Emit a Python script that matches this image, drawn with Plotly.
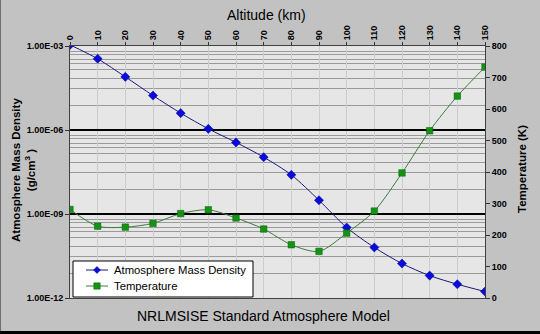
import plotly.graph_objects as go

# Altitude grid of the NRLMSISE profile (km)
altitude_km = [0, 10, 20, 30, 40, 50, 60, 70, 80, 90, 100, 110, 120, 130, 140, 150]

# Atmosphere mass density (g/cm^3)
density_g_cm3 = [1.1e-3, 3.5e-4, 7.9e-5, 1.7e-5, 4.0e-6, 1.1e-6, 3.6e-7, 1.07e-7,
                 2.5e-8, 3.1e-9, 3.3e-10, 6.4e-11, 1.7e-11, 6.3e-12, 3.1e-12, 1.7e-12]

# Temperature (K)
temperature_k = [281, 228, 225, 237, 268, 280, 254, 219,
                 169, 148, 206, 276, 397, 531, 641, 733]

series_names = ["Atmosphere Mass Density", "Temperature"]

# Axis ticks
altitude_ticks = list(range(0, 151, 10))
density_ticks = [1e-3, 1e-6, 1e-9, 1e-12]
density_tick_labels = ["1.00E-03", "1.00E-06", "1.00E-09", "1.00E-12"]
temperature_ticks = list(range(0, 801, 100))

# Minor density gridlines: offsets (in decades) below each labelled line
minor_offsets = [0.2, 0.3, 0.48, 0.64, 0.84, 1.16, 1.52, 2.11]
minor_vals = [u * 10 ** (-d) for u in density_ticks[:-1] for d in minor_offsets]

W, H = 540, 334
ML, MR, MT, MB = 70, 55, 46, 36
PW, PH = W - ML - MR, H - MT - MB


def px(x):
    return (x - ML) / PW


def py(y):
    return (H - MB - y) / PH


SANS = "Liberation Sans, Arial, sans-serif"

DENS_LINE, DENS_MARK, DENS_EDGE = "#1a1a7a", "#0a0adc", "#0000a0"
TEMP_LINE, TEMP_MARK, TEMP_EDGE = "#3f7a3f", "#139413", "#0b5e0b"

fig = go.Figure()

fig.add_trace(go.Scatter(
    x=altitude_km, y=density_g_cm3, name=series_names[0],
    mode="lines+markers", yaxis="y",
    line=dict(color=DENS_LINE, width=1, shape="spline", smoothing=0.8),
    marker=dict(symbol="diamond", size=7, color=DENS_MARK,
                line=dict(color=DENS_EDGE, width=0.5)),
))

fig.add_trace(go.Scatter(
    x=altitude_km, y=temperature_k, name=series_names[1],
    mode="lines+markers", yaxis="y2",
    line=dict(color=TEMP_LINE, width=1, shape="spline", smoothing=0.8),
    marker=dict(symbol="square", size=6.5, color=TEMP_MARK,
                line=dict(color=TEMP_EDGE, width=0.5)),
))

tickfont = dict(family=SANS, size=9, color="black", weight="bold")

fig.update_layout(
    template="none",
    width=W, height=H,
    margin=dict(l=ML, r=MR, t=MT, b=MB, pad=0),
    paper_bgcolor="#c2c2c2",
    plot_bgcolor="#e6e6e6",
    showlegend=False,
    xaxis=dict(
        side="top", range=[0, 150], tickmode="array", tickvals=altitude_ticks,
        tickangle=-90, tickfont=tickfont, ticks="outside", ticklen=3,
        tickcolor="#333", showgrid=True, gridcolor="#cdcdcd", gridwidth=1,
        showline=True, linecolor="#404040", linewidth=1, mirror=True,
        zeroline=False, automargin=False,
    ),
    yaxis=dict(
        type="log", range=[-12, -3], tickmode="array", tickvals=density_ticks,
        ticktext=density_tick_labels, tickfont=tickfont, ticks="outside",
        ticklen=4, tickcolor="#333", showgrid=True, gridcolor="black",
        gridwidth=2, showline=True, linecolor="#404040", linewidth=1,
        zeroline=False, automargin=False,
        minor=dict(tickmode="array", tickvals=minor_vals, showgrid=True,
                   gridcolor="#9a9a9a", gridwidth=1, ticks=""),
    ),
    yaxis2=dict(
        overlaying="y", side="right", range=[0, 800], tickmode="array",
        tickvals=temperature_ticks, tickfont=tickfont, ticks="outside",
        ticklen=4, tickcolor="#333", showgrid=False, showline=True,
        linecolor="#404040", linewidth=1, zeroline=False, automargin=False,
    ),
)

annotations = [
    dict(text="Altitude (km)",
         x=px(266.5), y=py(15), font=dict(family=SANS, size=14, color="black")),
    dict(text="NRLMSISE Standard Atmosphere Model",
         x=px(263.5), y=py(316), font=dict(family=SANS, size=14, color="black")),
    dict(text="Atmosphere Mass Density<br>(g/cm<sup>3</sup> )",
         x=px(23), y=py(170), textangle=-90,
         font=dict(family=SANS, size=11.5, color="black", weight="bold")),
    dict(text="Temperature (K)",
         x=px(522), y=py(169), textangle=-90,
         font=dict(family=SANS, size=11.5, color="black", weight="bold")),
]
for a in annotations:
    fig.add_annotation(xref="paper", yref="paper", showarrow=False,
                       xanchor="center", yanchor="middle", **a)

# Compact legend box in the lower-left corner of the plot
LEG_X0, LEG_X1, LEG_Y0, LEG_Y1 = 73, 253, 261, 297
ROW_Y = [270, 286]
SYM_X0, SYM_X1, SYM_C, TXT_X = 86, 108, 97, 112

fig.add_shape(type="rect", xref="paper", yref="paper",
              x0=px(LEG_X0), x1=px(LEG_X1), y0=py(LEG_Y1), y1=py(LEG_Y0),
              fillcolor="white", line=dict(color="black", width=1), layer="above")


def diamond_path(cx, cy, r):
    pts = [(cx, cy - r), (cx + r, cy), (cx, cy + r), (cx - r, cy)]
    return "M " + " L ".join(f"{px(x):.5f},{py(y):.5f}" for x, y in pts) + " Z"


legend_items = [
    (series_names[0], DENS_LINE, DENS_MARK, DENS_EDGE, "diamond"),
    (series_names[1], TEMP_LINE, TEMP_MARK, TEMP_EDGE, "square"),
]
for (name, lc, mc, ec, sym), ry in zip(legend_items, ROW_Y):
    fig.add_shape(type="line", xref="paper", yref="paper",
                  x0=px(SYM_X0), x1=px(SYM_X1), y0=py(ry), y1=py(ry),
                  line=dict(color=lc, width=1), layer="above")
    if sym == "diamond":
        fig.add_shape(type="path", xref="paper", yref="paper",
                      path=diamond_path(SYM_C, ry, 3.5), fillcolor=mc,
                      line=dict(color=ec, width=0.5), layer="above")
    else:
        fig.add_shape(type="rect", xref="paper", yref="paper",
                      x0=px(SYM_C - 3.2), x1=px(SYM_C + 3.2),
                      y0=py(ry + 3.2), y1=py(ry - 3.2), fillcolor=mc,
                      line=dict(color=ec, width=0.5), layer="above")
    fig.add_annotation(xref="paper", yref="paper", showarrow=False,
                       x=px(TXT_X), y=py(ry), xanchor="left", yanchor="middle",
                       text=name, font=dict(family=SANS, size=11.3, color="black"))

# Frame edges of the chart object
fig.add_shape(type="line", xref="paper", yref="paper",
              x0=px(0.5), x1=px(0.5), y0=py(0), y1=py(H),
              line=dict(color="#707070", width=1))
fig.add_shape(type="line", xref="paper", yref="paper",
              x0=px(0), x1=px(W), y0=py(332.5), y1=py(332.5),
              line=dict(color="black", width=3))

fig.write_html("out.html")
